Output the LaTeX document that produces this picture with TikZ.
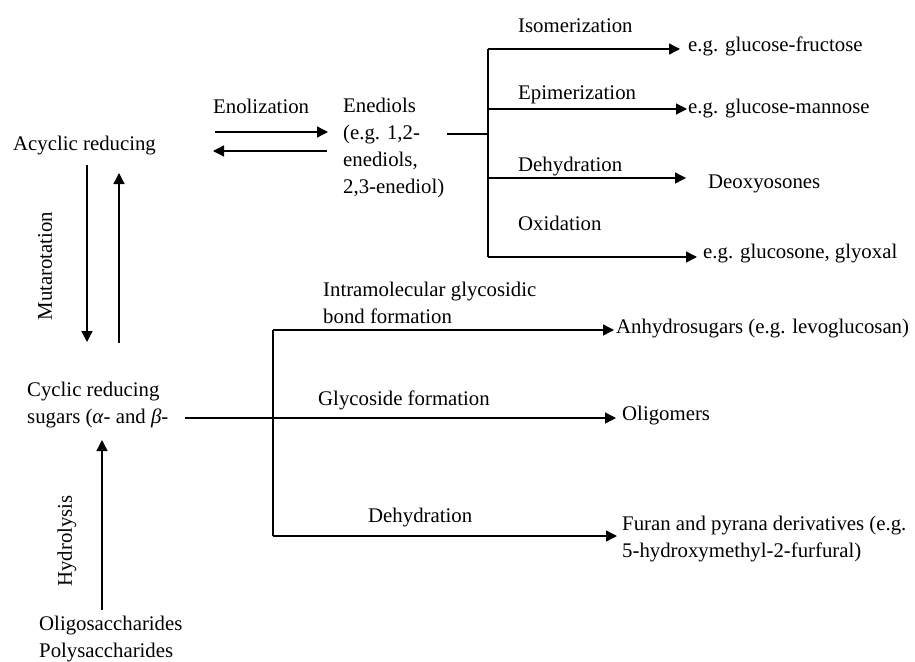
\documentclass[tikz,border=0pt]{standalone}
\usepackage{fontspec}
\setmainfont{Liberation Serif}
\usetikzlibrary{arrows.meta}
\begin{document}
\begin{tikzpicture}[x=1pt,y=-1pt,
  every node/.style={inner sep=0pt, font=\fontsize{20.8}{26.7}\selectfont},
  txt/.style={anchor=base west, align=left},
  conn/.style={line width=1.3pt},
  arr/.style={line width=1.3pt, -{Triangle[length=11pt,width=11pt]}}]
\useasboundingbox (0,0) rectangle (915,661);
% left column (multi-line nodes: base = last line)
\node[txt] (acyc) at (13,150) {Acyclic reducing};
\node[txt] (cyc) at (27,423) {Cyclic reducing\\sugars (\textit{α}- and \textit{β}-};
\node[txt] (poly) at (39,657) {Oligosaccharides\\Polysaccharides};
\node[rotate=90] (muta) at (45,266) {Mutarotation};
\node[rotate=90] (hydro) at (67,541) {Hydrolysis};
% enolization
\node[txt] (enol) at (213,113) {Enolization};
\node[txt] (ened) at (343,193) {Enediols\\(e.g. 1,2-\\enediols,\\2,3-enediol)};
% upper branches
\node[txt] (iso) at (518,33) {Isomerization};
\node[txt] (epi) at (518,99) {Epimerization};
\node[txt] (dehy1) at (518,171) {Dehydration};
\node[txt] (oxi) at (518,230) {Oxidation};
\node[txt] (fru) at (688,52) {e.g. glucose-fructose};
\node[txt] (man) at (688,113) {e.g. glucose-mannose};
\node[txt] (deo) at (708,188) {Deoxyosones};
\node[txt] (gly) at (703,258) {e.g. glucosone, glyoxal};
% lower branches
\node[txt] (intra) at (323,323) {Intramolecular glycosidic\\bond formation};
\node[txt] (glyc) at (318,405) {Glycoside formation};
\node[txt] (dehy2) at (368,522) {Dehydration};
\node[txt] (anhy) at (616,333) {Anhydrosugars (e.g. levoglucosan)};
\node[txt] (olig) at (622,420) {Oligomers};
\node[txt] (furan) at (622,557) {Furan and pyrana derivatives (e.g.\\5-hydroxymethyl-2-furfural)};
% coordinates
\coordinate (enF1) at (215,132); \coordinate (enF2) at (328,132);
\coordinate (enB1) at (327,151); \coordinate (enB2) at (213,151);
\coordinate (mdA) at (87,165); \coordinate (mdB) at (87,342);
\coordinate (muA) at (119,343); \coordinate (muB) at (119,173);
\coordinate (hyA) at (102,610); \coordinate (hyB) at (102,440);
\coordinate (edOut) at (447,134);
\coordinate (tU) at (488,134);
\coordinate (tU1) at (488,49); \coordinate (tU2) at (488,109);
\coordinate (tU3) at (488,178); \coordinate (tU4) at (488,257);
\coordinate (cyOut) at (185,418);
\coordinate (tL1) at (273,330); \coordinate (tL3) at (273,536);
% connectors
\draw[arr] (enF1) -- (enF2);
\draw[arr] (enB1) -- (enB2);
\draw[arr] (mdA) -- (mdB);
\draw[arr] (muA) -- (muB);
\draw[arr] (hyA) -- (hyB);
\draw[conn] (edOut) -- (tU);
\draw[conn] (tU1) -- (tU4);
\draw[arr] (tU1) -- (680,49);
\draw[arr] (tU2) -- (687,109);
\draw[arr] (tU3) -- (686,178);
\draw[arr] (tU4) -- (697,257);
\draw[arr] (cyOut) -- (616,418);
\draw[conn] (tL1) -- (tL3);
\draw[arr] (tL1) -- (614,330);
\draw[arr] (tL3) -- (617,536);
\end{tikzpicture}
\end{document}
